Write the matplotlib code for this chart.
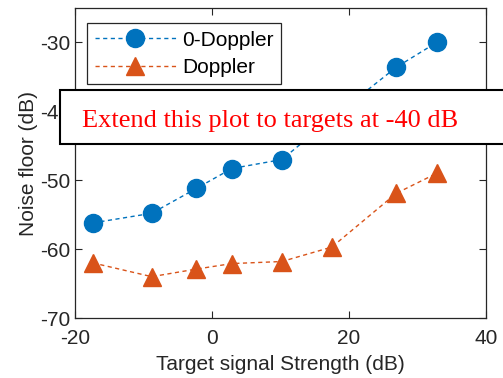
import numpy as np
import matplotlib.pyplot as plt
from matplotlib.patches import Rectangle

# Data
strength = [-17.4, -8.8, -2.3, 2.9, 10.2, 17.5, 26.9, 32.8]
zero_doppler = [-56.2, -54.8, -51.2, -48.3, -47.0, -41.0, -33.6, -30.0]
doppler = [-62.0, -64.0, -62.9, -62.1, -61.8, -59.7, -51.9, -49.0]

W, H = 503, 378
plt.rcParams['font.family'] = ['Liberation Sans', 'DejaVu Sans']
plt.rcParams['axes.unicode_minus'] = False

fig = plt.figure(figsize=(W / 100, H / 100), dpi=100)
ax = fig.add_axes([75 / W, (H - 318) / H, 411 / W, 310 / H])

ax.plot(strength, zero_doppler, '--o', color='#0072BD', lw=1, ms=13,
        dashes=(3, 2.5), label='0-Doppler')
ax.plot(strength, doppler, '--^', color='#D95319', lw=1, ms=13,
        dashes=(3, 2.5), label='Doppler')

ax.set_xlim(-20, 40)
ax.set_ylim(-70, -25)
ax.set_xticks([-20, 0, 20, 40])
ax.set_yticks([-70, -60, -50, -40, -30])
ax.tick_params(direction='in', top=True, right=True, labelsize=15,
               colors='#262626', length=5, width=0.8)
ax.tick_params(axis='x', pad=8)
for s in ax.spines.values():
    s.set_color('#262626')
    s.set_linewidth(0.9)

ax.set_xlabel('Target signal Strength (dB)', fontsize=15, color='#262626',
              labelpad=5)
ax.set_ylabel('Noise floor (dB)', fontsize=15, color='#262626', labelpad=1)

leg = ax.legend(loc='upper left', bbox_to_anchor=(0.03, 0.95), fontsize=15,
                handlelength=3.9, handletextpad=0.3, fancybox=False,
                edgecolor='#262626', framealpha=1, borderpad=0.35,
                borderaxespad=0, labelspacing=0.4)
leg.get_frame().set_linewidth(0.9)

# Annotation box overlaid in figure pixels
rect = Rectangle((60 / W, (H - 144) / H), 460 / W, 54 / H,
                 transform=fig.transFigure, facecolor='white',
                 edgecolor='black', lw=1.5, clip_on=False, zorder=10)
fig.patches.append(rect)
fig.text(82 / W, (H - 127) / H, 'Extend this plot to targets at -40 dB',
         color='red', fontsize=19, family=['Liberation Serif', 'DejaVu Serif'],
         va='baseline', ha='left', zorder=11)

fig.savefig('out.png', dpi=100)
